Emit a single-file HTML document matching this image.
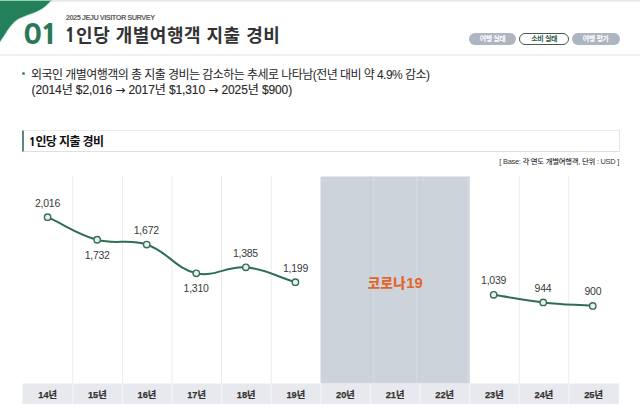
<!DOCTYPE html>
<html lang="ko">
<head>
<meta charset="utf-8">
<style>
*{margin:0;padding:0;box-sizing:border-box;}
html,body{width:640px;height:410px;overflow:hidden;background:#fff;}
body{position:relative;font-family:"Liberation Sans","Noto Sans CJK KR",sans-serif;color:#333;}
.abs{position:absolute;white-space:nowrap;}
#topband{position:absolute;left:0;top:0;width:640px;height:2px;background:linear-gradient(#e4e4e6,#f3f3f4);}
#hline{position:absolute;left:0;top:54px;width:640px;height:2px;background:#f0f0f0;}
#num{left:23.2px;top:14.2px;font-size:28px;transform:scaleX(1.1);transform-origin:0 0;font-family:"NanumGothicExtraBold","NanumGothic",sans-serif;font-weight:800;color:#2a7857;line-height:40px;letter-spacing:-1.6px;}
#sub{left:65.8px;top:12.6px;font-size:7.4px;font-weight:bold;color:#626262;line-height:10px;letter-spacing:-0.5px;}
#title{left:64.7px;top:23.3px;font-size:18px;font-weight:bold;color:#333;line-height:26px;letter-spacing:0.5px;}
.n1{font-family:"NanumGothicExtraBold","NanumGothic",sans-serif;font-weight:800;}
.pill{position:absolute;top:33.3px;height:12px;border-radius:6px;font-size:7px;font-weight:bold;text-align:center;line-height:12px;color:#fff;background:#adb5c1;letter-spacing:-0.4px;}
.pill.on{background:#fff;border:1.3px solid #4b5a53;color:#2e5c47;line-height:9.4px;}
#dot{left:22.3px;top:71.9px;width:3px;height:3px;border-radius:50%;background:#4a8a70;}
#bl1{left:31px;top:67.8px;font-size:12px;line-height:15px;color:#262626;font-weight:400;letter-spacing:-0.55px;}
#bl2{left:31.5px;top:82.6px;font-size:12px;line-height:15px;color:#262626;font-weight:400;letter-spacing:-0.1px;-webkit-text-stroke:0.12px #262626;}
.ar{font-family:"DejaVu Sans",sans-serif;font-size:12px;}
#sec{position:absolute;left:22px;top:130.3px;width:597.5px;height:21.8px;border:1px solid #e6e6e6;border-top:1.5px solid #ececec;border-bottom-color:#e0e0e0;border-left:2px solid #5c8a77;}
#sectxt{left:28.7px;top:135.3px;font-size:12px;font-weight:bold;color:#111;line-height:15px;letter-spacing:-0.6px;}
#base{right:21px;top:157px;font-size:7.4px;color:#333;font-weight:500;line-height:10px;letter-spacing:-0.25px;}
svg text{font-family:"Liberation Sans","Noto Sans CJK KR",sans-serif;}
</style>
</head>
<body>
<div id="topband"></div>
<svg class="abs" style="left:0;top:0" width="80" height="60" viewBox="0 0 80 60">
  <path d="M0,0 L51.2,0 C47.5,5 42.5,9 36,11.8 C30,14.3 24,16 19,18.6 C13,22 9.5,27 6,32.5 C4,35.5 2,38.5 0,41.5 Z" fill="#23805a" stroke="#c4ebd7" stroke-width="1.6" paint-order="stroke"/>
  <rect x="0" y="0" width="52" height="1" fill="#8fd3b1"/>
</svg>
<div id="hline"></div>
<div class="abs" id="num">01</div>
<div class="abs" id="sub">2025 JEJU VISITOR SURVEY</div>
<div class="abs" id="title"><span class="n1">1</span>인당 개별여행객 지출 경비</div>
<div class="pill" style="left:468.6px;width:47.8px">여행 실태</div>
<div class="pill on" style="left:519.2px;width:50px">소비 실태</div>
<div class="pill" style="left:571.6px;width:48.2px">여행 평가</div>

<div class="abs" id="dot"></div>
<div class="abs" id="bl1">외국인 개별여행객의 총 지출 경비는 감소하는 추세로 나타남(전년 대비 약 4.9% 감소)</div>
<div class="abs" id="bl2">(2014년 $2,016 <span class="ar">→</span> 2017년 $1,310 <span class="ar">→</span> 2025년 $900)</div>

<div id="sec"></div>
<div class="abs" id="sectxt"><span class="n1">1</span>인당 지출 경비</div>
<div class="abs" id="base">[ Base: 각 연도 개별여행객, 단위 : USD ]</div>

<svg class="abs" style="left:0;top:0" width="640" height="410" viewBox="0 0 640 410">
  <rect x="320.5" y="176.5" width="149.2" height="207" fill="#cdd3db"/>
  <g stroke="#d5dae1" stroke-width="1"><line x1="320.5" y1="180.5" x2="469.7" y2="180.5"/><line x1="467.5" y1="176.5" x2="467.5" y2="383.5"/><line x1="373.5" y1="176.5" x2="373.5" y2="383.5"/><line x1="416.5" y1="176.5" x2="416.5" y2="383.5"/></g>
  <g stroke="#ebebeb" stroke-width="1">
    <line x1="72.8" y1="176" x2="72.8" y2="383.5"/>
    <line x1="122.4" y1="176" x2="122.4" y2="383.5"/>
    <line x1="172.0" y1="176" x2="172.0" y2="383.5"/>
    <line x1="221.6" y1="176" x2="221.6" y2="383.5"/>
    <line x1="271.2" y1="176" x2="271.2" y2="383.5"/>
    <line x1="519.2" y1="176" x2="519.2" y2="383.5"/>
    <line x1="568.8" y1="176" x2="568.8" y2="383.5"/>
  </g>
  <g stroke="#c8ced6" stroke-width="1">
    <line x1="370.4" y1="176.5" x2="370.4" y2="383.5"/>
    <line x1="420.0" y1="176.5" x2="420.0" y2="383.5"/>
  </g>
  <rect x="22.5" y="383.5" width="596.3" height="20.6" fill="#e8e9ee"/>
  <g stroke="#f6f6f8" stroke-width="1">
    <line x1="72.8" y1="383.5" x2="72.8" y2="404.1"/>
    <line x1="122.4" y1="383.5" x2="122.4" y2="404.1"/>
    <line x1="172.0" y1="383.5" x2="172.0" y2="404.1"/>
    <line x1="221.6" y1="383.5" x2="221.6" y2="404.1"/>
    <line x1="271.2" y1="383.5" x2="271.2" y2="404.1"/>
    <line x1="320.8" y1="383.5" x2="320.8" y2="404.1"/>
    <line x1="370.4" y1="383.5" x2="370.4" y2="404.1"/>
    <line x1="420.0" y1="383.5" x2="420.0" y2="404.1"/>
    <line x1="469.6" y1="383.5" x2="469.6" y2="404.1"/>
    <line x1="519.2" y1="383.5" x2="519.2" y2="404.1"/>
    <line x1="568.8" y1="383.5" x2="568.8" y2="404.1"/>
  </g>
  <g font-size="9.2" font-weight="bold" fill="#333" stroke="#333" stroke-width="0.25" text-anchor="middle">
    <text x="47.7" y="398.3">14년</text>
    <text x="97.3" y="398.3">15년</text>
    <text x="146.9" y="398.3">16년</text>
    <text x="196.6" y="398.3">17년</text>
    <text x="246.2" y="398.3">18년</text>
    <text x="295.8" y="398.3">19년</text>
    <text x="345.4" y="398.3">20년</text>
    <text x="395.0" y="398.3">21년</text>
    <text x="444.7" y="398.3">22년</text>
    <text x="494.3" y="398.3">23년</text>
    <text x="543.9" y="398.3">24년</text>
    <text x="593.5" y="398.3">25년</text>
  </g>
  <text x="395.2" y="288" font-size="13.5" font-weight="900" fill="#e1652a" text-anchor="middle" letter-spacing="0.4">코로나<tspan font-size="14.8" font-weight="bold" letter-spacing="0">19</tspan></text>
  <g fill="none" stroke="#2e6e57" stroke-width="2" stroke-linecap="round">
    <path d="M47.60,217.20 C67.42,226.23 76.45,234.06 97.16,239.77 C116.10,245.00 128.29,238.30 146.72,244.54 C167.94,251.72 175.09,268.44 196.28,273.31 C214.74,277.56 226.37,265.62 245.84,267.35 C266.02,269.15 275.58,276.22 295.40,282.14"/>
    <path d="M493.64,294.85 C513.46,297.87 523.29,300.18 543.20,302.40 C562.93,304.60 572.94,304.50 592.76,305.90"/>
  </g>
  <g fill="#e3f4ec" stroke="#3a6b58" stroke-width="1.4">
    <circle cx="47.60" cy="217.20" r="3.2"/>
    <circle cx="97.16" cy="239.77" r="3.2"/>
    <circle cx="146.72" cy="244.54" r="3.2"/>
    <circle cx="196.28" cy="273.31" r="3.2"/>
    <circle cx="245.84" cy="267.35" r="3.2"/>
    <circle cx="295.40" cy="282.14" r="3.2"/>
    <circle cx="493.64" cy="294.85" r="3.2"/>
    <circle cx="543.20" cy="302.40" r="3.2"/>
    <circle cx="592.76" cy="305.90" r="3.2"/>
  </g>
  <g font-size="10.5" fill="#3a3a3a" text-anchor="middle" letter-spacing="-0.25">
    <text x="47.5" y="207.1">2,016</text>
    <text x="97.2" y="258.9">1,732</text>
    <text x="146.3" y="234.4">1,672</text>
    <text x="196.1" y="292.4">1,310</text>
    <text x="245.4" y="257.0">1,385</text>
    <text x="295.5" y="271.6">1,199</text>
    <text x="493.6" y="283.9">1,039</text>
    <text x="543.0" y="291.9">944</text>
    <text x="592.9" y="295.3">900</text>
  </g>
</svg>
</body>
</html>
